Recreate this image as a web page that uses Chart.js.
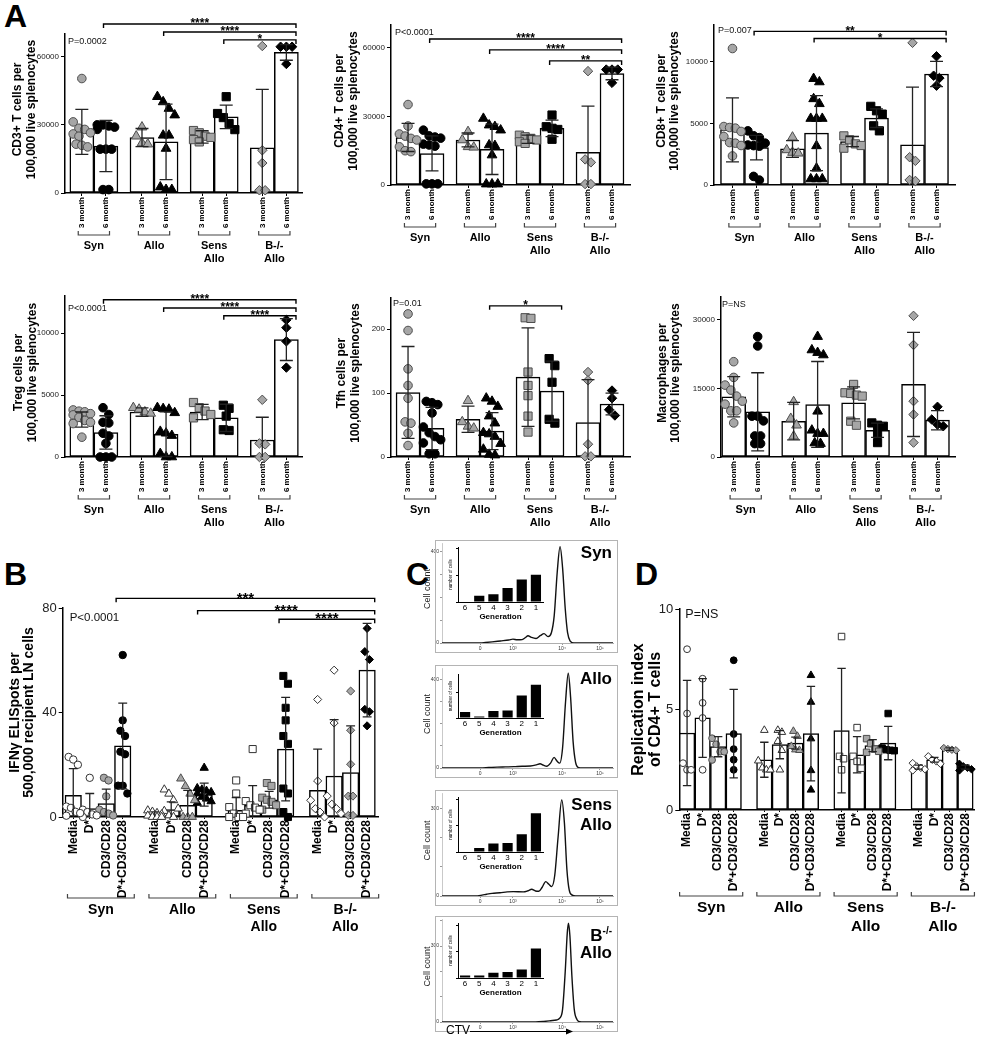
<!DOCTYPE html>
<html>
<head>
<meta charset="utf-8">
<script src="https://cdn.jsdelivr.net/npm/chart.js@4.4.1/dist/chart.umd.min.js"></script>
<style>
  body { margin: 0; background: #fff; }
  #page { position: relative; width: 983px; height: 1050px; overflow: hidden; font-family: "Liberation Sans", Arial, sans-serif; }
  #page canvas { position: absolute; }
  .panel { position: absolute; font-weight: bold; font-size: 32px; line-height: 32px; }
</style>
</head>
<body>
<div id="page">
  <div class="panel" style="left:4px;top:0px">A</div>
  <div class="panel" style="left:4px;top:558px">B</div>
  <div class="panel" style="left:406px;top:558px">C</div>
  <div class="panel" style="left:635px;top:558px">D</div>
</div>
<script>
// ---------- data ----------
const aGroups = [['Syn'], ['Allo'], ['Sens', 'Allo'], ['B-/-', 'Allo']];
const aConds = ['3 month', '6 month'];
const bdConds = ['Media', 'D*', 'CD3/CD28', 'D*+CD3/CD28'];

// CD3+ T cells
const cd3Ticks = [0, 30000, 60000];
const cd3Mean = [26900, 20700, 24400, 22500, 24700, 33500, 19850, 61900];
const cd3Sd = [9900, 11250, 4000, 16600, 2700, 5150, 25750, 3450];
const cd3Pts = [
  [50400, 31300, 28500, 28000, 26500, 26000, 25000, 21500, 21000, 20300],
  [30000, 30000, 29500, 29000, 28000, 19300, 19300, 19300, 1500, 1500],
  [29000, 25000, 22000, 21500],
  [42400, 40100, 37200, 34300, 25400, 25400, 19600, 2600, 1500, 1500],
  [27500, 26500, 25000, 24500, 23500, 22500],
  [42400, 35000, 33200, 30600, 27900],
  [64700, 18800, 13200, 1200, 1200],
  [64400, 64400, 64400, 56800]
];
const cd3Sig = [[1, 7, 74400, '****'], [3, 7, 70900, '****'], [5, 7, 67400, '*']];

// CD4+ T cells
const cd4Ticks = [0, 30000, 60000];
const cd4Mean = [20800, 13800, 19700, 15600, 20000, 24800, 14300, 48800];
const cd4Sd = [6150, 7650, 3050, 11000, 1800, 3600, 20200, 2750];
const cd4Pts = [
  [35200, 25800, 22300, 21400, 20400, 19700, 16700, 15000, 14600],
  [24000, 21500, 21000, 20500, 17900, 17500, 17000, 500, 500, 500],
  [23300, 19700, 16700, 16500],
  [29100, 26200, 25500, 24000, 17500, 17200, 13100, 400, 400, 400],
  [21800, 21100, 20400, 19700, 18900, 18200],
  [30600, 25500, 24800, 24300, 20000],
  [49800, 11200, 9900, 400, 400],
  [50500, 50500, 50500, 44700]
];
const cd4Sig = [[1, 7, 63900, '****'], [3, 7, 59100, '****'], [5, 7, 54300, '**']];

// CD8+ T cells
const cd8Ticks = [0, 5000, 10000];
const cd8Mean = [4480, 3040, 2930, 4210, 3530, 5430, 3260, 9020];
const cd8Sd = [2600, 1000, 680, 3050, 410, 760, 4700, 1020];
const cd8Pts = [
  [11090, 4750, 4670, 4620, 4350, 3940, 3450, 3400, 3210, 2360],
  [4400, 4000, 3850, 3400, 3250, 3200, 3150, 700, 400],
  [3880, 2850, 2640, 2580],
  [8640, 8370, 7000, 6600, 5400, 5400, 5400, 3180, 1360, 490, 490, 490],
  [3990, 3670, 3340, 3210, 2990],
  [6390, 6030, 5760, 4810, 4400],
  [11550, 2260, 1960, 410, 330],
  [10460, 8880, 8690, 8070]
];
const cd8Sig = [[1, 7, 12480, '**'], [3, 7, 11900, '*']];

// Treg cells
const tregTicks = [0, 5000, 10000];
const tregMean = [3020, 1980, 3630, 1840, 3630, 3160, 1370, 9480];
const tregSd = [615, 1350, 340, 1800, 620, 1100, 1840, 1690];
const tregPts = [
  [3800, 3700, 3650, 3500, 3400, 3200, 2950, 2800, 2700, 1600],
  [3980, 3430, 2800, 2750, 1920, 1700, 1100, 0, 0, 0],
  [3980, 3850, 3630, 3520],
  [3980, 3900, 3850, 3570, 2060, 1920, 1730, 270, 0, 0],
  [4400, 3980, 3710, 3430, 3160],
  [4180, 3930, 3300, 2200, 2140],
  [4620, 1100, 1020, 0, 0],
  [11070, 10440, 9340, 7220]
];
const tregSig = [[1, 7, 12700, '****'], [3, 7, 12030, '****'], [5, 7, 11400, '****']];

// Tfh cells
const tfhTicks = [0, 100, 200];
const tfhMean = [101, 44.7, 59, 40.5, 125, 103, 54, 83];
const tfhSd = [72, 33, 20.5, 29, 77, 47, 67, 17];
const tfhPts = [
  [224, 198, 138, 112, 92, 55, 53, 37, 18],
  [87, 85, 82, 69, 47, 38, 32, 27, 22, 5, 5],
  [88, 55, 48, 45],
  [92, 87, 79, 64, 53, 38, 36, 32, 21, 12, 4, 3],
  [218, 217, 133, 112, 96, 64, 39],
  [154, 143, 117, 59, 53],
  [133, 120, 20, 1, 1],
  [104, 92, 74, 65]
];
const tfhSig = [[3, 5, 236.6, '*']];

// Macrophages
const macTicks = [0, 15000, 30000];
const macMean = [13170, 9880, 7830, 11490, 11850, 5850, 15880, 8050];
const macSd = [4400, 8550, 4100, 9400, 3500, 1550, 11400, 2100];
const macPts = [
  [20850, 17410, 15730, 14630, 13320, 12220, 11560, 10100, 10100, 7460],
  [26340, 24290, 8930, 8930, 7900, 4610, 4610, 2930, 2930],
  [12070, 8410, 6950, 4540],
  [26340, 23410, 22830, 22310, 10000, 5850, 5120, 5120, 3070, 2930],
  [15880, 14050, 13900, 13540, 13320, 7830, 6950],
  [7460, 6950, 6730, 5120, 3150],
  [30880, 24510, 12220, 9290, 3150],
  [10980, 8200, 7100, 6730]
];

// B: IFNg ELISpots
const ifnTicks = [0, 40, 80];
const ifnMean = [8.3, 3.2, 5.1, 27.2, 1.0, 2.8, 4.5, 8.6, 2.6, 4.5, 6.6, 26, 10.2, 15.7, 17, 56.2];
const ifnSd = [10.2, 5.8, 5.6, 16.4, 1, 3, 5.7, 4.4, 4.8, 7.5, 3.2, 19.8, 15.8, 21.6, 17.9, 17.9];
const ifnPts = [
  [23, 22, 20, 4, 3.5, 2, 1.5, 0.5],
  [15, 2.8, 1.9, 1, 0.6, 0],
  [15, 14, 7.9, 2.8, 1.9, 1.3, 0.6],
  [62, 37, 33, 31, 25, 24, 12, 12, 9],
  [2.5, 2, 1.5, 1, 0.5, 0, 0, 0],
  [10.5, 8.9, 6.4, 3.2, 2.3, 0.6, 0],
  [14.7, 11.8, 8.9, 6.4, 0, 0, 0],
  [18.8, 11, 10.5, 10, 9.5, 9, 7.7, 7, 6, 5.4],
  [14, 9, 3.8, 1.3, 0, 0, 0],
  [26, 6.1, 4.5, 3.6, 2.8, 1.3],
  [13, 11.9, 7.4, 6.6, 5.8, 4.5, 2.8],
  [54, 51, 41.8, 37, 31, 28, 10.9, 9, 1.9, 0],
  [45, 13.8, 6.4, 3.2, 1.9, 0],
  [56.2, 36, 8, 4.9, 3.2, 1.3],
  [48.2, 33.2, 20.2, 8, 8, 0.6, 0.6],
  [72.2, 63.3, 60.3, 41.2, 40.3, 34.9]
];
const ifnSig = [[3, 15, 83.7, '***'], [7, 15, 79, '****'], [11, 15, 75.7, '****']];

// D: replication index
const repTicks = [0, 5, 10];
const repMean = [3.83, 4.58, 3.15, 3.8, 2.5, 3.25, 3.33, 3.8, 3.95, 2.75, 3.2, 3.33, 2.13, 2.5, 3.03, 2.13];
const repSd = [2.62, 1.96, 0.5, 2.2, 0.87, 0.7, 0.3, 2.35, 3.1, 0.9, 0.3, 0.83, 0.1, 0.12, 0.06, 0.1];
const repPts = [
  [8, 4.8, 2.33, 2, 2],
  [6.53, 5.33, 4.58, 2],
  [3.57, 3.27, 2.9, 2.9, 2.49],
  [7.45, 3.78, 3.03, 2.5, 2],
  [3.97, 2.45, 2.1, 2, 2],
  [3.97, 3.87, 3.42, 2.97, 2],
  [3.92, 3.67, 3.17, 3, 2.97],
  [6.7, 5.37, 3.55, 1.97, 1],
  [8.63, 2.67, 2.55, 2],
  [4.1, 2.67, 2.42, 2.08],
  [3.55, 3.3, 3.03, 2.92, 2.87],
  [4.8, 3.08, 3, 2.97, 2.95],
  [2.33, 2.17, 2.1, 2.03, 1.97],
  [2.67, 2.5, 2.42, 2.3],
  [3.08, 3.03, 3, 2.97],
  [2.3, 2.17, 2.1, 2.03, 1.97]
];

// C: CTV histograms (channel, cell count) and generation insets
const ctvTickPos = [228, 425, 719, 946];
const ctvTickLab = ['0', '10³', '10⁴', '10⁵'];
const genLabels = ['6', '5', '4', '3', '2', '1'];
const synCurve = [[0,0],[230,0],[260,2],[300,5],[350,9],[400,13],[425,17],[450,14],[480,15],[500,24],[515,32],[535,25],[563,20],[590,33],[611,41],[635,28],[655,45],[672,120],[690,310],[707,422],[722,330],[738,150],[752,45],[768,8],[790,0],[1024,0]];
const alloCurve = [[0,0],[230,0],[280,2],[330,4],[380,5],[430,6],[480,8],[530,9],[565,14],[587,19],[607,13],[627,8],[650,22],[671,48],[690,30],[705,22],[722,90],[740,300],[756,427],[770,320],[785,120],[800,25],[815,3],[840,0],[1024,0]];
const sensCurve = [[0,0],[200,0],[240,3],[267,6],[300,9],[347,11],[390,14],[427,15],[487,14],[515,18],[537,23],[560,17],[580,16],[600,30],[621,49],[640,40],[657,32],[675,70],[695,200],[717,328],[733,250],[748,90],[762,20],[780,3],[800,0],[1024,0]];
const bkoCurve = [[0,0],[560,0],[610,2],[650,5],[685,8],[705,15],[722,50],[738,200],[750,350],[757,390],[766,340],[778,180],[792,50],[808,10],[825,1],[850,0],[1024,0]];
const synGen = [0, 47, 59, 106, 169, 205];
const alloGen = [47, 12, 54, 59, 176, 259];
const sensGen = [0, 31, 64, 68, 134, 294];
const bkoGen = [19, 19, 40, 45, 64, 224];

// ---------- helpers ----------
const FONT = '"Liberation Sans", Arial, sans-serif';
Chart.defaults.font.family = FONT;
Chart.defaults.color = '#000';
const SHAPE_SCALE = { circle: 1, triangle: 1.3, rect: 1.35, rectRot: 1.1 };

function mount(id, area, m) {
  const c = document.createElement('canvas');
  c.id = id;
  const w = Math.round(area.r - area.l + m.l + m.r);
  const h = Math.round(area.b - area.t + m.t + m.b);
  c.width = w; c.height = h;
  c.style.left = (area.l - m.l) + 'px';
  c.style.top = (area.t - m.t) + 'px';
  c.style.width = w + 'px';
  c.style.height = h + 'px';
  document.getElementById('page').appendChild(c);
  return c;
}

// spread points with similar values side by side
function spread(vals, thr, step, maxCols) {
  const out = [];
  let i = 0;
  while (i < vals.length) {
    let j = i + 1;
    while (j < vals.length && vals[j - 1] - vals[j] <= thr) j++;
    const n = j - i, cols = Math.min(n, maxCols);
    for (let k = 0; k < n; k++) out.push(((k % cols) - (cols - 1) / 2) * step);
    i = j;
  }
  return out;
}

function vtext(ctx, txt, x, y) {
  ctx.save();
  ctx.translate(x, y);
  ctx.rotate(-Math.PI / 2);
  ctx.fillText(txt, 0, 0);
  ctx.restore();
}

function deco(o, xs) {
  return {
    id: 'deco',
    afterDatasetsDraw(chart) {
      const { ctx, scales: { x, y } } = chart;
      ctx.save();
      ctx.strokeStyle = '#222';
      ctx.lineWidth = 1.3;
      xs.forEach((xv, i) => {
        const m = o.means[i], s = o.sd[i];
        const px = x.getPixelForValue(xv);
        const top = y.getPixelForValue(m + s);
        const bot = y.getPixelForValue(Math.max(0, m - s));
        const cw = x.getPixelForValue(xv + o.cap) - px;
        ctx.beginPath();
        ctx.moveTo(px, top); ctx.lineTo(px, bot);
        ctx.moveTo(px - cw, top); ctx.lineTo(px + cw, top);
        if (m - s > 0) { ctx.moveTo(px - cw, bot); ctx.lineTo(px + cw, bot); }
        ctx.stroke();
      });
      ctx.restore();
    },
    afterDraw(chart) {
      const { ctx, chartArea: a, scales: { x, y } } = chart;
      const nC = o.conds.length;
      ctx.save();
      // significance brackets
      ctx.strokeStyle = '#000';
      ctx.fillStyle = '#000';
      ctx.lineWidth = 1.4;
      (o.sig || []).forEach(([i, j, v, lab]) => {
        const x1 = x.getPixelForValue(xs[i] + o.sigL);
        const x2 = x.getPixelForValue(xs[j] + o.sigR);
        const py = y.getPixelForValue(v);
        ctx.beginPath();
        ctx.moveTo(x1, py + 4); ctx.lineTo(x1, py); ctx.lineTo(x2, py); ctx.lineTo(x2, py + 4);
        ctx.stroke();
        ctx.font = `bold ${o.sigFont}px ${FONT}`;
        ctx.textAlign = 'center';
        ctx.textBaseline = 'alphabetic';
        ctx.fillText(lab, (x1 + x2) / 2, py + o.sigFont * 0.28);
      });
      // group brackets and names under the axis
      ctx.strokeStyle = '#444';
      ctx.lineWidth = 1.2;
      o.groups.forEach((lines, g) => {
        const xl = x.getPixelForValue(xs[g * nC] + o.grpL);
        const xr = x.getPixelForValue(xs[g * nC + nC - 1] + o.grpR);
        const yb = a.bottom + o.grpY;
        ctx.beginPath();
        ctx.moveTo(xl, yb - 4); ctx.lineTo(xl, yb); ctx.lineTo(xr, yb); ctx.lineTo(xr, yb - 4);
        ctx.stroke();
        ctx.font = `bold ${o.grpFont}px ${FONT}`;
        ctx.textAlign = 'center';
        ctx.textBaseline = 'middle';
        lines.forEach((t, k) => ctx.fillText(t, (xl + xr) / 2, a.bottom + o.grpText[k]));
      });
      // y title
      ctx.font = `bold ${o.titleFont}px ${FONT}`;
      ctx.textAlign = 'center';
      ctx.textBaseline = 'middle';
      o.title.forEach((t, k) => vtext(ctx, t, a.left - o.titleDx[k], (a.top + a.bottom) / 2 + o.titleDy));
      // p value
      ctx.font = `${o.pFont}px ${FONT}`;
      ctx.textAlign = 'left';
      ctx.fillStyle = '#111';
      ctx.fillText(o.pText, a.left + o.pPos[0], a.top + o.pPos[1]);
      ctx.restore();
    }
  };
}

function dotBar(o) {
  const nC = o.conds.length;
  const xs = [];
  o.groups.forEach((g, gi) => o.conds.forEach((c, ci) => xs.push(gi * (nC + o.gap) + ci)));
  const canvas = mount(o.id, o.area, o.m);
  const thr = o.yMax * 0.045;
  const datasets = [{
    type: 'bar',
    data: xs.map((x, i) => ({ x, y: o.means[i] })),
    backgroundColor: '#fff', borderColor: '#000', borderWidth: 1.5, borderSkipped: false,
    barPercentage: 1, categoryPercentage: 1, order: 2
  }];
  xs.forEach((x, i) => {
    const gi = Math.floor(i / nC), ci = i % nC;
    const shape = o.shapes[gi];
    const vals = o.points[i].slice().sort((a, b) => b - a);
    const offs = spread(vals, thr, o.step, o.maxCols);
    datasets.push({
      type: 'scatter', order: 1, clip: false,
      data: vals.map((v, k) => ({ x: x + offs[k], y: v })),
      pointStyle: shape, pointRadius: o.r * SHAPE_SCALE[shape],
      pointBackgroundColor: o.fills[ci], pointBorderColor: o.edges[ci], pointBorderWidth: 1
    });
  });
  new Chart(canvas, {
    type: 'bar',
    data: { datasets },
    options: {
      responsive: false, animation: false, events: [],
      layout: { padding: { top: o.m.t, right: o.m.r, left: 0, bottom: 0 } },
      plugins: { legend: { display: false }, tooltip: { enabled: false } },
      scales: {
        x: {
          type: 'linear', min: o.xMin, max: o.xMax, offset: false,
          afterBuildTicks: s => { s.ticks = xs.map(v => ({ value: v })); },
          afterFit: s => { s.height = o.m.b; },
          ticks: {
            autoSkip: false, minRotation: 90, maxRotation: 90, padding: 1, color: '#000',
            font: { size: o.xFont, weight: 'bold' }, callback: (v, i) => o.conds[i % nC]
          },
          grid: { drawOnChartArea: false, offset: false, tickLength: o.xTick, color: '#000', lineWidth: 1 },
          border: { color: '#000', width: 1.5 }
        },
        y: {
          min: 0, max: o.yMax,
          afterBuildTicks: s => { s.ticks = o.yTicks.map(v => ({ value: v })); },
          afterFit: s => { s.width = o.m.l; },
          ticks: { color: '#222', font: { size: o.yFont }, padding: 2, callback: v => String(v) },
          grid: { drawOnChartArea: false, tickLength: 4, color: '#000', lineWidth: 1 },
          border: { color: '#000', width: 1.5 }
        }
      }
    },
    plugins: [deco(o, xs)]
  });
}

const aStyle = {
  conds: aConds, groups: aGroups, gap: 0.5, shapes: ['circle', 'triangle', 'rect', 'rectRot'],
  fills: ['#a6a6a6', '#000'], edges: ['#4d4d4d', '#000'], r: 4.3, step: 0.24, maxCols: 4, cap: 0.27,
  xFont: 8, xTick: 3, yFont: 8, grpFont: 11, grpY: 42, grpText: [52.5, 66], grpL: -0.15, grpR: 0.15,
  sigL: -0.1, sigR: 0.4, sigFont: 12, titleFont: 12, titleDy: -4, pFont: 9
};
const bdStyle = {
  conds: bdConds, shapes: ['circle', 'triangle', 'rect', 'rectRot'],
  fills: ['#fff', '#fff', '#a6a6a6', '#000'], edges: ['#333', '#333', '#4d4d4d', '#000'],
  r: 3.7, step: 0.28, maxCols: 4, cap: 0.27, xTick: 2, yFont: 13, sigL: -0.4, sigR: 0.46, sigFont: 15, titleDy: 0,
  groups: [['Syn'], ['Allo'], ['Sens', 'Allo'], ['B-/-', 'Allo']]
};

dotBar(Object.assign({}, aStyle, {
  id: 'cd3', area: { l: 65, t: 34, r: 302, b: 192.7 }, m: { l: 65, t: 34, r: 20, b: 78 },
  xMin: -0.7, xMax: 9.15, yMax: 70000, yTicks: cd3Ticks, means: cd3Mean, sd: cd3Sd, points: cd3Pts, sig: cd3Sig,
  title: ['CD3+ T cells per', '100,000 live splenocytes'], titleDx: [47, 33.5], pText: 'P=0.0002', pPos: [3, 8]
}));
dotBar(Object.assign({}, aStyle, {
  id: 'cd4', area: { l: 391, t: 25, r: 630, b: 185 }, m: { l: 61, t: 25, r: 20, b: 80 },
  xMin: -0.71, xMax: 9.25, yMax: 70000, yTicks: cd4Ticks, means: cd4Mean, sd: cd4Sd, points: cd4Pts, sig: cd4Sig,
  title: ['CD4+ T cells per', '100,000 live splenocytes'], titleDx: [51, 37], pText: 'P<0.0001', pPos: [4, 8]
}));
dotBar(Object.assign({}, aStyle, {
  id: 'cd8', area: { l: 714, t: 25, r: 955, b: 185 }, m: { l: 64, t: 25, r: 20, b: 80 },
  xMin: -0.77, xMax: 9.27, yMax: 13000, yTicks: cd8Ticks, means: cd8Mean, sd: cd8Sd, points: cd8Pts, sig: cd8Sig,
  title: ['CD8+ T cells per', '100,000 live splenocytes'], titleDx: [52.5, 39], pText: 'P=0.007', pPos: [4, 6]
}));
dotBar(Object.assign({}, aStyle, {
  id: 'treg', area: { l: 65, t: 296, r: 302, b: 456.7 }, m: { l: 65, t: 20, r: 20, b: 80 },
  xMin: -0.7, xMax: 9.15, yMax: 13000, yTicks: tregTicks, means: tregMean, sd: tregSd, points: tregPts, sig: tregSig,
  title: ['Treg cells per', '100,000 live splenocytes'], titleDx: [46, 32.5], pText: 'P<0.0001', pPos: [3, 13]
}));
dotBar(Object.assign({}, aStyle, {
  id: 'tfh', area: { l: 391, t: 297.3, r: 630, b: 456.7 }, m: { l: 61, t: 21.3, r: 20, b: 80 },
  xMin: -0.71, xMax: 9.25, yMax: 250, yTicks: tfhTicks, means: tfhMean, sd: tfhSd, points: tfhPts, sig: tfhSig,
  title: ['Tfh cells per', '100,000 live splenocytes'], titleDx: [49, 35], pText: 'P=0.01', pPos: [2, 6]
}));
dotBar(Object.assign({}, aStyle, {
  id: 'mac', area: { l: 721, t: 297, r: 955, b: 456.7 }, m: { l: 68, t: 21, r: 20, b: 80 },
  xMin: -0.53, xMax: 9.23, yMax: 35000, yTicks: macTicks, means: macMean, sd: macSd, points: macPts, sig: [],
  title: ['Macrophages per', '100,000 live splenocytes'], titleDx: [58.5, 45], pText: 'P=NS', pPos: [1, 8]
}));
dotBar(Object.assign({}, bdStyle, {
  id: 'ifn', area: { l: 62.7, t: 607.7, r: 378.3, b: 816.7 }, m: { l: 62.7, t: 25, r: 15, b: 130 },
  gap: 0.94, xMin: -0.64, xMax: 18.48, yMax: 80, yTicks: ifnTicks,
  means: ifnMean, sd: ifnSd, points: ifnPts, sig: ifnSig,
  xFont: 12, grpFont: 14, grpY: 81, grpText: [93.5, 110.5], grpL: -0.35, grpR: 0.7,
  title: ['IFNγ ELISpots per', '500,000 recipient LN cells'], titleFont: 14, titleDx: [47.7, 33.7],
  pText: 'P<0.0001', pFont: 11.5, pPos: [7, 10]
}));
dotBar(Object.assign({}, bdStyle, {
  id: 'rep', area: { l: 679.3, t: 609.3, r: 975, b: 810 }, m: { l: 49.3, t: 20, r: 6, b: 130 },
  gap: 0.97, xMin: -0.5, xMax: 18.47, yMax: 10, yTicks: repTicks,
  means: repMean, sd: repSd, points: repPts, sig: [], r: 3.4, step: 0.26,
  xFont: 12, grpFont: 15.5, grpY: 86, grpText: [98, 117], grpL: -0.48, grpR: 0.58,
  title: ['Replication index', 'of CD4+ T cells'], titleFont: 16, titleDx: [40.3, 23.3],
  pText: 'P=NS', pFont: 12.5, pPos: [6, 6]
}));

// ---------- panel C ----------
function histDeco(o) {
  return {
    id: 'histDeco',
    beforeDatasetsDraw(chart) {
      const { ctx, chartArea: a } = chart;
      ctx.save();
      ctx.strokeStyle = '#b4b4b4';
      ctx.lineWidth = 1;
      ctx.strokeRect(Math.round(a.left - 7) + 0.5, Math.round(a.top - 3) + 0.5, a.right - a.left + 11, a.bottom - a.top + 12);
      ctx.restore();
    },
    afterDraw(chart) {
      const { ctx, chartArea: a } = chart;
      ctx.save();
      ctx.fillStyle = '#222';
      ctx.font = `9px ${FONT}`;
      ctx.textAlign = 'center';
      ctx.textBaseline = 'middle';
      vtext(ctx, 'Cell count', a.left - 14, (a.top + a.bottom) / 2 - 4);
      ctx.fillStyle = '#000';
      ctx.textAlign = 'right';
      o.labels.forEach(l => {
        ctx.font = `bold 17px ${FONT}`;
        let xr = a.right - 1;
        if (l.sup) {
          ctx.font = `bold 10px ${FONT}`;
          ctx.fillText(l.sup, xr, a.top + l.dy - 5);
          xr -= ctx.measureText(l.sup).width;
          ctx.font = `bold 17px ${FONT}`;
        }
        ctx.fillText(l.t, xr, a.top + l.dy);
      });
      if (o.ctv) {
        ctx.font = `12px ${FONT}`;
        ctx.textAlign = 'left';
        ctx.fillText('CTV', a.left + 4, a.bottom + 9);
        ctx.strokeStyle = '#000';
        ctx.lineWidth = 1;
        const ya = a.bottom + 9.5, x1 = a.left + 28, x2 = a.left + 131;
        ctx.beginPath(); ctx.moveTo(x1, ya); ctx.lineTo(x2 - 5, ya); ctx.stroke();
        ctx.beginPath(); ctx.moveTo(x2, ya); ctx.lineTo(x2 - 7, ya - 3); ctx.lineTo(x2 - 7, ya + 3); ctx.closePath(); ctx.fill();
      }
      ctx.restore();
    }
  };
}

function hist(o) {
  const canvas = mount(o.id, o.area, o.m);
  new Chart(canvas, {
    type: 'line',
    data: { datasets: [{
      data: o.curve.map(p => ({ x: p[0], y: p[1] })),
      borderColor: '#111', borderWidth: 1.4, pointRadius: 0, cubicInterpolationMode: 'monotone', fill: false
    }] },
    options: {
      responsive: false, animation: false, events: [],
      layout: { padding: { top: o.m.t, right: o.m.r, left: 0, bottom: 0 } },
      plugins: { legend: { display: false }, tooltip: { enabled: false } },
      scales: {
        x: {
          type: 'linear', min: 0, max: 1024,
          afterBuildTicks: s => { s.ticks = ctvTickPos.map(v => ({ value: v })); },
          afterFit: s => { s.height = o.m.b; },
          ticks: { autoSkip: false, maxRotation: 0, padding: 1, font: { size: 5 }, color: '#333', callback: (v, i) => ctvTickLab[i] },
          grid: { drawOnChartArea: false, tickLength: 2, color: '#999' },
          border: { color: '#999', width: 0.8, dash: [2, 1] }
        },
        y: {
          min: 0, max: o.yMax,
          afterBuildTicks: s => { const t = []; for (let v = 0; v <= o.yMax; v += 100) t.push({ value: v }); s.ticks = t; },
          afterFit: s => { s.width = o.m.l; },
          ticks: { padding: 1, font: { size: 5 }, color: '#333', callback: v => (v === 0 || v === o.yLab) ? String(v) : '' },
          grid: { drawOnChartArea: false, tickLength: 2, color: '#999' },
          border: { color: '#bbb', width: 0.8 }
        }
      }
    },
    plugins: [histDeco(o)]
  });
}

function inset(o) {
  const m = { l: 10, t: 3, r: 3, b: 20 };
  const canvas = mount(o.id, o.area, m);
  new Chart(canvas, {
    type: 'bar',
    data: { labels: genLabels, datasets: [{ data: o.vals, backgroundColor: '#000', barPercentage: 0.72, categoryPercentage: 1 }] },
    options: {
      responsive: false, animation: false, events: [],
      layout: { padding: { top: m.t, right: m.r, left: 0, bottom: 0 } },
      plugins: { legend: { display: false }, tooltip: { enabled: false } },
      scales: {
        x: {
          afterFit: s => { s.height = m.b; },
          grid: { display: false, drawTicks: false },
          border: { color: '#000', width: 1 },
          ticks: { padding: 1, font: { size: 8 }, color: '#000' },
          title: { display: true, text: 'Generation', font: { size: 8, weight: 'bold' }, color: '#000', padding: 0 }
        },
        y: {
          min: 0, max: o.max,
          afterBuildTicks: s => { const t = []; for (let v = 0; v <= o.max; v += 100) t.push({ value: v }); s.ticks = t; },
          afterFit: s => { s.width = m.l; },
          ticks: { padding: 0, callback: () => '' },
          grid: { drawOnChartArea: false, tickLength: 2, color: '#000' },
          border: { color: '#000', width: 1 },
          title: { display: true, text: 'number of cells', font: { size: 4.5 }, color: '#000', padding: 0 }
        }
      }
    }
  });
}

const histM = { l: 30, t: 6, r: 8, b: 12 };
hist({ id: 'h1', area: { l: 442, t: 543, r: 613, b: 643.3 }, m: histM, yMax: 438, yLab: 400, curve: synCurve,
  labels: [{ t: 'Syn', dy: 10 }] });
hist({ id: 'h2', area: { l: 442, t: 668, r: 613, b: 768.3 }, m: histM, yMax: 451, yLab: 400, curve: alloCurve,
  labels: [{ t: 'Allo', dy: 11 }] });
hist({ id: 'h3', area: { l: 442, t: 793, r: 613, b: 896 }, m: histM, yMax: 352, yLab: 300, curve: sensCurve,
  labels: [{ t: 'Sens', dy: 12 }, { t: 'Allo', dy: 32 }] });
hist({ id: 'h4', area: { l: 442, t: 919, r: 613, b: 1021.7 }, m: { l: 30, t: 6, r: 8, b: 20 }, yMax: 407, yLab: 300, curve: bkoCurve,
  labels: [{ t: 'B', sup: '-/-', dy: 17 }, { t: 'Allo', dy: 34 }], ctv: true });

inset({ id: 'g1', area: { l: 458, t: 543, r: 543, b: 601.7 }, vals: synGen, max: 412 });
inset({ id: 'g2', area: { l: 458, t: 670, r: 543, b: 718.3 }, vals: alloGen, max: 341 });
inset({ id: 'g3', area: { l: 458, t: 792.7, r: 543, b: 851.7 }, vals: sensGen, max: 416 });
inset({ id: 'g4', area: { l: 458, t: 919.3, r: 543, b: 978.3 }, vals: bkoGen, max: 416 });
</script>
</body>
</html>
